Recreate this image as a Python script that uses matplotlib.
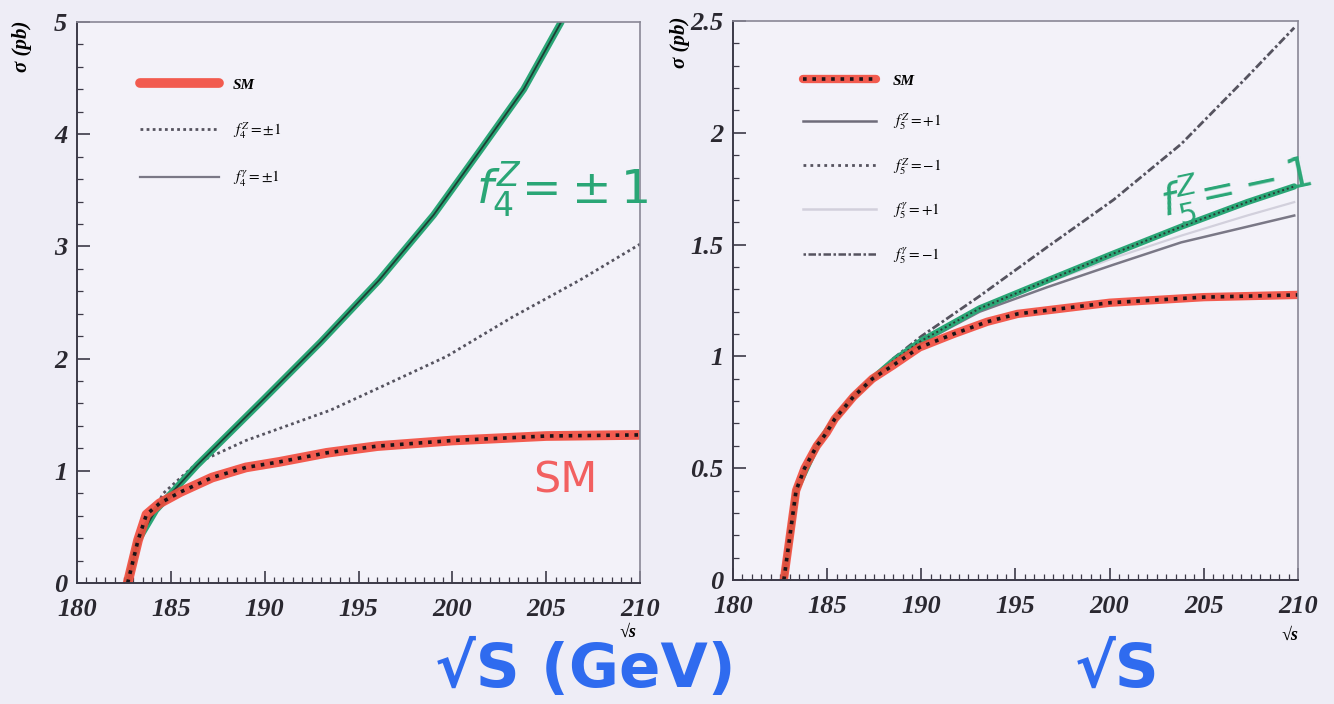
import matplotlib
matplotlib.use('Agg')
import matplotlib.pyplot as plt
from matplotlib.font_manager import FontProperties
from matplotlib.ticker import MultipleLocator, FuncFormatter

# ---- data ----
# left panel: f4 couplings
sm_l_x = [182.7, 183.25, 183.7, 184.4, 185.5, 187.2, 189.0, 190.8, 193.3, 196.0, 200.0, 205.0, 210.0]
sm_l_y = [0.0, 0.38, 0.61, 0.71, 0.81, 0.94, 1.03, 1.08, 1.16, 1.22, 1.27, 1.31, 1.32]

f4z_x = [182.7, 183.25, 184.2, 186.4, 189.9, 193.0, 196.1, 199.0, 201.5, 203.8, 205.8]
f4z_y = [0.0, 0.38, 0.65, 1.05, 1.63, 2.15, 2.70, 3.28, 3.86, 4.40, 5.0]

f4g_x = [182.7, 183.25, 184.6, 186.4, 189.0, 193.5, 196.1, 199.7, 203.2, 206.8, 210.0]
f4g_y = [0.0, 0.38, 0.80, 1.07, 1.27, 1.54, 1.74, 2.02, 2.37, 2.70, 3.02]

# right panel: f5 couplings
sm_r_x = [182.7, 183.35, 183.8, 184.45, 184.98, 185.4, 186.4, 187.4, 188.5, 189.9, 191.7, 193.5, 195.1, 200.0, 205.0, 210.0]
sm_r_y = [0.0, 0.40, 0.50, 0.60, 0.66, 0.72, 0.82, 0.90, 0.96, 1.04, 1.10, 1.155, 1.19, 1.24, 1.265, 1.275]

f5_x = [182.7, 183.35, 184.45, 185.4, 186.4, 187.4, 188.5, 190.0, 193.1, 196.7, 200.2, 203.8, 207.3, 209.8]
f5z_plus = [0.0, 0.40, 0.60, 0.72, 0.82, 0.90, 0.97, 1.06, 1.20, 1.31, 1.41, 1.51, 1.58, 1.63]
f5z_minus = [0.0, 0.40, 0.60, 0.72, 0.82, 0.90, 0.98, 1.07, 1.215, 1.34, 1.46, 1.58, 1.69, 1.76]
f5g_plus = [0.0, 0.40, 0.60, 0.72, 0.82, 0.90, 0.97, 1.06, 1.21, 1.33, 1.44, 1.54, 1.63, 1.69]
f5g_minus = [0.0, 0.40, 0.60, 0.72, 0.82, 0.90, 0.99, 1.09, 1.27, 1.49, 1.70, 1.95, 2.25, 2.47]

left_labels = ['SM', r'$f_4^Z = \pm 1$', r'$f_4^\gamma = \pm 1$']
right_labels = ['SM', r'$f_5^Z = +1$', r'$f_5^Z = -1$', r'$f_5^\gamma = +1$', r'$f_5^\gamma = -1$']

# colours
bg = '#eeedf6'
red = '#f24b3c'
green = '#2aa676'
blue = '#2f6bef'
dark = '#3c3a48'

W, H = 1334, 704
fig = plt.figure(figsize=(W / 100, H / 100), dpi=100, facecolor=bg)

ax1 = fig.add_axes([77 / W, 1 - 583 / H, 563 / W, 561 / H])
ax2 = fig.add_axes([733 / W, 1 - 580 / H, 565 / W, 559 / H])

tick_font = FontProperties(family='Liberation Serif', weight='bold', style='italic', size=19)
leg_font = FontProperties(family='Liberation Serif', weight='bold', style='italic', size=11,
                          math_fontfamily='stix')


def num(v, pos):
    return ('%g' % v)


for ax, ymax, ymaj, ymin in [(ax1, 5, 1, 0.2), (ax2, 2.5, 0.5, 0.1)]:
    ax.set_facecolor('#f3f2f9')
    ax.set_xlim(180, 210)
    ax.set_ylim(0, ymax)
    ax.xaxis.set_major_locator(MultipleLocator(5))
    ax.xaxis.set_minor_locator(MultipleLocator(0.5))
    ax.yaxis.set_major_locator(MultipleLocator(ymaj))
    ax.yaxis.set_minor_locator(MultipleLocator(ymin))
    ax.yaxis.set_major_formatter(FuncFormatter(num))
    ax.tick_params(which='both', direction='in', top=False, right=False, color=dark)
    ax.tick_params(which='major', length=9, width=1.2, pad=7)
    ax.tick_params(axis='x', which='major', pad=11)
    ax.tick_params(which='minor', length=4, width=0.9)
    for lab in ax.get_xticklabels() + ax.get_yticklabels():
        lab.set_fontproperties(tick_font)
        lab.set_color('#2a2830')
    for s in ['top', 'right']:
        ax.spines[s].set_color('#8a8896')
        ax.spines[s].set_linewidth(1.2)
    for s in ['left', 'bottom']:
        ax.spines[s].set_color(dark)
        ax.spines[s].set_linewidth(1.4)

# ---- left panel ----
ax1.plot(f4g_x, f4g_y, color='#55535f', lw=2.0, linestyle=(0, (1, 1.2)))
ax1.plot(f4z_x, f4z_y, color=green, lw=5, solid_capstyle='round')
ax1.plot(f4z_x, f4z_y, color='#1d3d34', lw=1.3)
sm1_red, = ax1.plot(sm_l_x, sm_l_y, color=red, lw=7, alpha=0.9, solid_capstyle='round')
sm1_dot, = ax1.plot(sm_l_x, sm_l_y, color='#1a1418', lw=2.6, linestyle=(0, (1, 1.6)))

h_dot = plt.Line2D([], [], color='#55535f', lw=2.0, linestyle=(0, (1, 1.2)))
h_sol = plt.Line2D([], [], color='#7a7886', lw=1.6)
h_sm1 = plt.Line2D([], [], color=red, lw=7, alpha=0.9, solid_capstyle='round')
ax1.legend([h_sm1, h_dot, h_sol], left_labels, loc='upper left',
           bbox_to_anchor=((140 - 77) / 563, 1 - (78 - 22) / 561), frameon=False,
           prop=leg_font, handlelength=5.2, handletextpad=0.9, labelspacing=1.85,
           borderpad=0, borderaxespad=0)

ax1.text(0.862, 0.70, r'$f_4^Z\!=\!\pm1$', transform=ax1.transAxes, color=green,
         fontsize=34, math_fontfamily='dejavusans', ha='center', va='center')
ax1.text(0.867, 0.183, 'SM', transform=ax1.transAxes, color='#f26060',
         fontsize=31, family='DejaVu Sans', ha='center', va='center')

# ---- right panel ----
ax2.plot(f5_x, f5g_minus, color='#55535f', lw=2.0, linestyle=(0, (1, 1, 3, 1)))
ax2.plot(f5_x, f5g_plus, color='#d2d0dc', lw=1.6)
ax2.plot(f5_x, f5z_plus, color='#7a7886', lw=1.8)
ax2.plot(f5_x, f5z_minus, color=green, lw=4.5, solid_capstyle='round')
ax2.plot(f5_x, f5z_minus, color='#2b3a36', lw=1.4, linestyle=(0, (1, 1.5)))
sm2_red, = ax2.plot(sm_r_x, sm_r_y, color=red, lw=6, alpha=0.9, solid_capstyle='round')
sm2_dot, = ax2.plot(sm_r_x, sm_r_y, color='#1a1418', lw=2.6, linestyle=(0, (1, 1.6)))

hr = [(sm2_red, sm2_dot),
      plt.Line2D([], [], color='#6e6c7a', lw=1.8),
      plt.Line2D([], [], color='#55535f', lw=2.0, linestyle=(0, (1, 1.5))),
      plt.Line2D([], [], color='#d2d0dc', lw=1.8),
      plt.Line2D([], [], color='#55535f', lw=1.8, linestyle=(0, (1, 1, 3, 1)))]
ax2.legend(hr, right_labels, loc='upper left',
           bbox_to_anchor=((803 - 733) / 565, 1 - (74 - 21) / 559), frameon=False,
           prop=leg_font, handlelength=4.8, handletextpad=1.1, labelspacing=1.55,
           borderpad=0, borderaxespad=0)

ax2.text(0.89, 0.70, r'$f_5^Z\!=\!-1$', transform=ax2.transAxes, color=green,
         fontsize=30, math_fontfamily='dejavusans', ha='center', va='center', rotation=12)

# ---- axis titles ----
title_font = FontProperties(family='Liberation Serif', weight='bold', style='italic', size=15)
small_font = FontProperties(family='Liberation Serif', weight='bold', style='italic', size=13)
fig.text(22 / W, 1 - 20 / H, 'σ (pb)', rotation=90, ha='center', va='top', fontproperties=title_font)
fig.text(680 / W, 1 - 16 / H, 'σ (pb)', rotation=90, ha='center', va='top', fontproperties=title_font)
fig.text(628 / W, 1 - 632 / H, '√s', ha='center', va='center', fontproperties=small_font)
fig.text(1290 / W, 1 - 635 / H, '√s', ha='center', va='center', fontproperties=small_font)

# hand-written x labels
fig.text(585 / W, 1 - 670 / H, '√S (GeV)', color=blue, fontsize=44, weight='bold',
         family='DejaVu Sans', ha='center', va='center')
fig.text(1117 / W, 1 - 670 / H, '√S', color=blue, fontsize=44, weight='bold',
         family='DejaVu Sans', ha='center', va='center')

fig.savefig('out.png', dpi=100, facecolor=bg)
